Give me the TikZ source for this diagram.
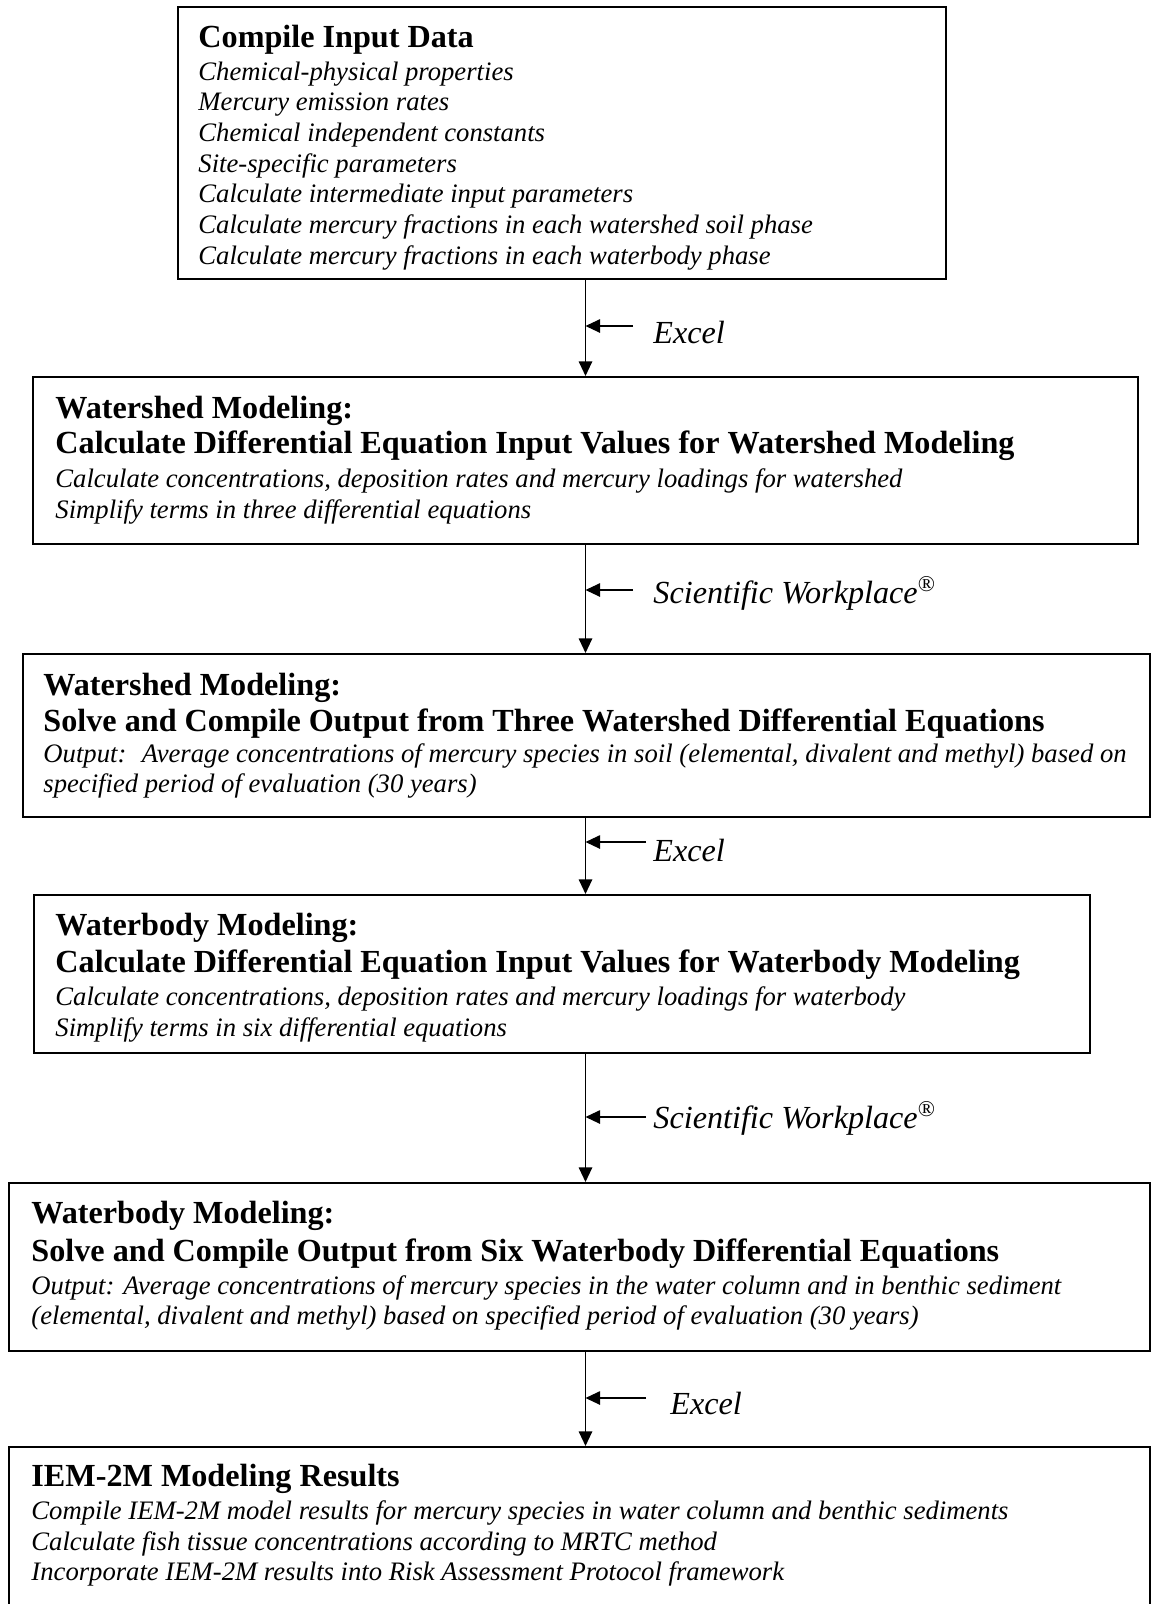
\documentclass[tikz,border=0pt]{standalone}
\usepackage{fontspec}
\setmainfont{Liberation Serif}
\usetikzlibrary{arrows.meta,fit}
\begin{document}
\begin{tikzpicture}[x=0.4444pt,y=-0.4444pt,
  box/.style={draw, line width=0.9pt, inner sep=0pt},
  hd/.style={anchor=base west, inner sep=0pt, font=\fontsize{14.3}{16}\selectfont\bfseries},
  it/.style={anchor=base west, inner sep=0pt, font=\fontsize{11.85}{14}\selectfont\itshape},
  lbl/.style={anchor=base west, inner sep=0pt, font=\fontsize{14.3}{16}\selectfont\itshape},
  flow/.style={line width=0.6pt, -{Triangle[length=6.5pt,width=6pt]}},
  ]
\useasboundingbox (0,0) rectangle (1151,1604);
\clip (0,0) rectangle (1151,1604);

% boxes
\node[box, fit={(178,7) (946,279)}] (b1) {};
\node[box, fit={(33,377) (1138,544)}] (b2) {};
\node[box, fit={(23,654) (1150,817)}] (b3) {};
\node[box, fit={(34,895) (1090,1053)}] (b4) {};
\node[box, fit={(9,1183) (1150,1351)}] (b5) {};
\node[box, fit={(9,1447) (1150,1700)}] (b6) {};

% box 1 text
\node[hd] (t1a) at (198,47) {Compile Input Data};
\node[it] (t1b) at (198,80) {Chemical-physical properties};
\node[it] (t1c) at (198,110) {Mercury emission rates};
\node[it] (t1d) at (198,141) {Chemical independent constants};
\node[it] (t1e) at (198,172) {Site-specific parameters};
\node[it] (t1f) at (198,202) {Calculate intermediate input parameters};
\node[it] (t1g) at (198,233) {Calculate mercury fractions in each watershed soil phase};
\node[it] (t1h) at (198,264) {Calculate mercury fractions in each waterbody phase};

% box 2 text
\node[hd] (t2a) at (55,418) {Watershed Modeling:};
\node[hd] (t2b) at (55,453) {Calculate Differential Equation Input Values for Watershed Modeling};
\node[it] (t2c) at (55,487) {Calculate concentrations, deposition rates and mercury loadings for watershed};
\node[it] (t2d) at (55,518) {Simplify terms in three differential equations};

% box 3 text
\node[hd] (t3a) at (43,695) {Watershed Modeling:};
\node[hd] (t3b) at (43,731) {Solve and Compile Output from Three Watershed Differential Equations};
\node[it] (t3c) at (43,762) {Output:~ Average concentrations of mercury species in soil (elemental, divalent and methyl) based on};
\node[it] (t3d) at (43,792) {specified period of evaluation (30 years)};

% box 4 text
\node[hd] (t4a) at (55,935) {Waterbody Modeling:};
\node[hd] (t4b) at (55,972) {Calculate Differential Equation Input Values for Waterbody Modeling};
\node[it] (t4c) at (55,1005) {Calculate concentrations, deposition rates and mercury loadings for waterbody};
\node[it] (t4d) at (55,1036) {Simplify terms in six differential equations};

% box 5 text
\node[hd] (t5a) at (31,1223) {Waterbody Modeling:};
\node[hd] (t5b) at (31,1261) {Solve and Compile Output from Six Waterbody Differential Equations};
\node[it] (t5c) at (31,1294) {Output: Average concentrations of mercury species in the water column and in benthic sediment};
\node[it] (t5d) at (31,1324) {(elemental, divalent and methyl) based on specified period of evaluation (30 years)};

% box 6 text
\node[hd] (t6a) at (31,1486) {IEM-2M Modeling Results};
\node[it] (t6b) at (31,1519) {Compile IEM-2M model results for mercury species in water column and benthic sediments};
\node[it] (t6c) at (31,1550) {Calculate fish tissue concentrations according to MRTC method};
\node[it] (t6d) at (31,1580) {Incorporate IEM-2M results into Risk Assessment Protocol framework};

% main flow arrows
\coordinate (ax) at (585.5,0);
\draw[flow] (b1.south -| ax) -- (b2.north -| ax);
\draw[flow] (b2.south -| ax) -- (b3.north -| ax);
\draw[flow] (b3.south -| ax) -- (b4.north -| ax);
\draw[flow] (b4.south -| ax) -- (b5.north -| ax);
\draw[flow] (b5.south -| ax) -- (b6.north -| ax);

% tool arrows and labels
\coordinate (s1) at (633,326);
\coordinate (s2) at (633,590);
\coordinate (s3) at (646,842);
\coordinate (s4) at (646,1117);
\coordinate (s5) at (646,1398);
\draw[flow] (s1) -- (s1 -| ax);
\draw[flow] (s2) -- (s2 -| ax);
\draw[flow] (s3) -- (s3 -| ax);
\draw[flow] (s4) -- (s4 -| ax);
\draw[flow] (s5) -- (s5 -| ax);
\node[lbl] (l1) at (653,343) {Excel};
\node[lbl] (l2) at (653,603) {Scientific Workplace\textsuperscript{\textregistered}};
\node[lbl] (l3) at (653,861) {Excel};
\node[lbl] (l4) at (653,1128) {Scientific Workplace\textsuperscript{\textregistered}};
\node[lbl] (l5) at (670,1414) {Excel};
\end{tikzpicture}
\end{document}
